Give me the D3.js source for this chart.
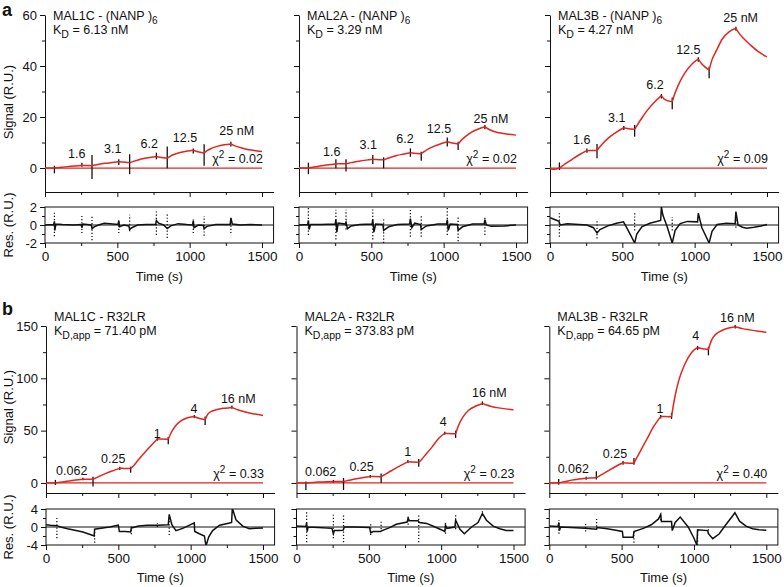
<!DOCTYPE html>
<html><head><meta charset="utf-8">
<script src="https://cdn.jsdelivr.net/npm/d3@7"></script>
<style>
body{margin:0;background:#fff}
svg{display:block}
text{font-family:"Liberation Sans",Arial,Helvetica,sans-serif}
</style>
</head><body>
<svg id="c" width="784" height="587"></svg>
<script>
// ---------------- DATA ----------------
const fitTimes = [0,30,65, 85,115,155,205,255, 280,325, 345,375,415,465,510, 535,585,
  605,635,675,725,770, 795,845, 865,895,935,985,1025, 1050,1100,
  1120,1150,1190,1240,1285, 1305,1335,1385,1445,1500];
const phaseBreaks = [65,255,325,510,585,770,845,1025,1100,1285];
const xMajorTicks = [0,500,1000,1500];
const xMinorTicks = [250,750,1250];

const fitA1 = [0,0,0, 0.1,0.3,0.55,0.8,1.0, 0.95,0.9, 1.15,1.5,1.85,2.2,2.5, 2.35,2.1,
  2.5,3.0,3.6,4.1,4.5, 4.2,3.8, 4.6,5.4,6.1,6.7,7.0, 6.5,5.9, 6.8,7.7,8.5,9.1,9.4, 8.9,8.3,7.5,6.9,6.5];
const fitA2 = [0,0,0, 0.2,0.5,0.9,1.3,1.6, 1.65,1.7, 1.9,2.3,2.7,3.1,3.4, 3.3,3.2,
  3.6,4.2,4.9,5.5,6.0, 5.8,5.6, 6.4,7.5,8.6,9.6,10.3, 9.9,9.4, 10.8,12.3,14.0,15.3,16.2, 15.4,14.6,13.8,13.2,12.9];
const fitA3 = [-0.3,-0.5,0, 0.8,2.0,3.5,5.3,6.8, 6.9,6.9, 8.3,10.2,12.3,14.3,15.8, 15.5,15.2,
  17.0,19.6,22.8,26.0,28.4, 26.8,26.0, 29.5,33.5,37.5,41.0,42.7, 40.8,38.4, 42.5,46.0,50.5,53.5,54.8, 53.0,51.0,48.3,45.4,43.6];
const fitB1 = [0,0,0, 0.4,1.0,1.8,2.8,3.6, 3.6,3.5, 4.8,6.8,9.2,11.8,14.0, 13.9,13.7,
  16.5,21.5,28.0,35.5,42.0, 42.0,41.8, 48.0,54.5,59.5,62.5,63.5, 62.0,60.5, 66.0,68.8,70.5,71.5,72.2, 71.0,69.5,67.5,65.8,64.5];
const fitB2 = [0,0,0, 0.15,0.4,0.8,1.1,1.4, 1.4,1.4, 2.0,2.9,4.0,5.2,6.2, 6.1,6.0,
  7.6,10.0,13.3,17.0,20.2, 20.0,19.8, 22.5,27.5,34.0,43.0,47.5, 47.3,47.0, 55.0,63.0,69.5,73.5,76.0, 75.0,73.5,72.0,70.8,70.0];
const fitB3 = [0,0,0, 0.6,1.5,2.7,3.7,4.5, 4.8,5.0, 6.6,9.0,12.3,16.2,19.3, 19.1,18.8,
  24.2,31.8,42.0,54.7,63.4, 63.4,63.2, 80.0,98.0,113.0,125.0,129.5, 128.5,127.5, 136.0,142.0,145.5,148.0,149.2, 148.5,147.5,146.3,145.0,144.0];

// injection marker bars in the sensorgram: [time, low, high]
const barsA1 = [[65,-2.1,0.9],[255,0.5,2.1],[325,-4.3,5.1],[510,1.2,3.4],[585,-2.4,5.4],[770,3.4,6.0],[845,-0.1,8.4],[1025,5.7,7.7],[1100,0.9,9.3],[1285,8.4,10.3]];
const barsA2 = [[65,-2.4,2.1],[255,-0.1,3.4],[325,-1.4,3.4],[510,1.6,5.1],[585,-0.1,4.2],[770,4.4,7.7],[845,2.9,6.4],[1025,8.4,12.0],[1100,7.1,10.3],[1285,15.2,16.9]];
const barsA3 = [[65,-0.8,2.2],[255,6.0,7.7],[325,3.8,9.4],[510,14.9,16.5],[585,12.3,16.9],[770,27.3,29.0],[845,23.0,27.7],[1025,41.7,43.4],[1100,35.2,39.7],[1285,53.8,55.4]];
const barsB1 = [[65,-1.9,2.9],[255,2.5,5.0],[325,-3.5,6.0],[510,12.5,15.5],[585,9.8,15.6],[770,40.5,43.5],[845,37.0,44.0],[1025,62.0,65.0],[1100,55.4,63.4],[1285,71.0,74.0]];
const barsB2 = [[65,-6.7,1.3],[255,0.3,2.8],[325,-6.7,4.8],[510,5.0,7.5],[585,0,9.0],[770,19.0,22.0],[845,15.6,23.0],[1025,46.0,49.0],[1100,43.0,50.0],[1285,74.5,78.0]];
const barsB3 = [[65,-1.6,3.8],[255,3.0,6.0],[325,3.2,11.1],[510,17.5,21.0],[585,17.5,23.9],[770,61.5,65.0],[845,61.2,66.9],[1025,127.0,131.0],[1100,122.0,130.0],[1285,147.5,151.0]];

// residuals: [time, residual]
const resA1 = [[0,0],[60,0.05],[65,0.4],[68,-0.6],[75,0.1],[120,0.05],[200,0],[250,0.05],[255,-0.3],[262,0.1],[320,0],[325,-0.4],[340,-0.2],[370,0],[410,0.2],[450,0.15],[505,0.05],[510,0.5],[515,-0.2],[545,0],[580,-0.1],[585,-0.5],[600,-0.3],[640,0],[700,0.05],[765,0.05],[770,0.5],[785,0.2],[820,0],[845,-0.4],[870,-0.1],[920,0.15],[980,0.05],[1020,0],[1025,0.5],[1030,-0.3],[1060,0],[1095,-0.05],[1100,-0.4],[1120,-0.15],[1180,0.05],[1280,0.05],[1285,0.8],[1295,0.1],[1350,0],[1420,0.05],[1500,0]];
const resA2 = [[0,0],[60,0.05],[65,0.5],[70,-0.5],[80,0.05],[150,0.05],[250,0.1],[255,0.6],[262,-0.8],[270,0.2],[320,0.1],[325,0.3],[335,-0.4],[360,-0.1],[420,0.05],[505,0.1],[510,0.6],[518,-0.8],[530,0.1],[580,0.05],[585,-0.6],[620,-0.2],[680,0.05],[765,0.1],[770,0.7],[780,-0.3],[800,0.2],[840,0.05],[845,-0.5],[880,-0.1],[960,0.1],[1020,0.1],[1025,0.6],[1032,-0.6],[1045,0.1],[1095,0.05],[1100,-0.6],[1130,-0.2],[1200,0.1],[1280,0.1],[1285,0.6],[1295,0],[1330,-0.15],[1420,-0.1],[1500,0]];
const resA3 = [[0,0.8],[40,0.55],[62,0.4],[70,0],[120,0.15],[200,0.05],[255,0],[300,-0.3],[325,-0.9],[345,-0.5],[400,-0.1],[460,0.2],[508,0.35],[530,-0.3],[560,-1.2],[585,-2.0],[600,-1.0],[635,-0.2],[690,0.2],[765,0.5],[770,2.0],[780,1.1],[810,-0.2],[845,-2.0],[865,-0.6],[900,0.15],[950,0.4],[1020,0.35],[1025,1.3],[1050,-0.3],[1100,-2.0],[1120,-0.7],[1155,0.05],[1220,0.2],[1280,0.15],[1285,1.5],[1300,0],[1330,-0.25],[1360,-0.35],[1410,-0.25],[1460,-0.1],[1500,0.05]];
const resB1 = [[0,0.5],[30,0.4],[75,0.3],[100,0],[150,-0.4],[200,-0.7],[255,-1.1],[300,-1.6],[333,-2.0],[336,-0.5],[380,-0.3],[440,0],[500,0.4],[507,-1.0],[550,-1.0],[585,-1.1],[590,-0.2],[640,0.2],[700,0.4],[770,0.4],[845,0.5],[852,2.8],[870,0.5],[898,-0.8],[945,-0.3],[1010,0.7],[1025,0.9],[1028,-1.0],[1060,-1.5],[1095,-2.0],[1106,-4.2],[1125,-2.2],[1152,-0.8],[1200,0.4],[1270,0.9],[1283,1.0],[1288,4.2],[1313,1.6],[1360,0.2],[1405,-0.4],[1450,-0.3],[1500,-0.2]];
const resB2 = [[0,0.2],[65,0.1],[70,1.0],[74,-1.0],[80,0],[150,-0.1],[245,-0.3],[255,-1.5],[262,-0.8],[300,-0.8],[323,-0.7],[330,0],[400,0],[505,-0.1],[513,-1.3],[530,-1.0],[580,-1.0],[600,-0.7],[640,-0.2],[690,0.6],[765,1.1],[772,2.0],[780,1.4],[840,1.4],[850,1.0],[900,0.8],[950,0.1],[1000,-0.6],[1025,-1.0],[1030,0.4],[1040,-0.3],[1095,0],[1100,1.5],[1130,-0.5],[1160,-1.5],[1210,0],[1255,1.0],[1285,3.0],[1313,1.5],[1360,0.2],[1405,-0.4],[1450,-0.75],[1500,-0.75]];
const resB3 = [[0,0.2],[60,0.1],[66,1.0],[70,-0.8],[78,0],[150,-0.1],[247,-0.3],[325,-0.5],[330,-0.1],[400,-0.4],[460,-0.7],[505,-1.0],[510,-2.3],[580,-2.3],[585,-1.0],[650,-0.3],[705,0.5],[755,1.8],[770,2.8],[775,1.2],[845,1.2],[850,-0.8],[870,1.0],[905,2.2],[960,0],[1000,-2.5],[1020,-4.0],[1025,-0.6],[1095,-0.8],[1100,-1.5],[1130,-2.6],[1175,-1.5],[1220,0.5],[1268,2.5],[1283,3.2],[1315,1.3],[1360,0.2],[1405,-0.4],[1450,-0.6],[1500,-0.7]];

// dotted injection spikes in the residuals: [time, low, high]
const spkA1 = [[65,-1.25,1.5],[255,-0.9,1.0],[325,-1.7,1.15],[510,-0.9,0.4],[585,-0.7,1.15],[770,-1.1,1.5],[845,-1.45,1.4],[1025,-0.9,0.6],[1100,-1.2,1.0],[1285,-0.9,0.8]];
const spkA2 = [[65,-1.1,1.9],[255,-1.6,1.7],[325,-0.5,1.7],[510,-1.6,1.9],[585,-2.0,0.6],[770,-1.3,1.7],[845,-1.3,1.0],[1025,-1.1,1.9],[1100,-1.8,1.0],[1285,-1.1,0.8]];
const spkA3 = [[65,-1.3,1.3],[325,-1.5,0.6],[585,-0.6,1.3],[845,-0.6,0.9],[1285,-0.3,1.2]];
const spkB1 = [[75,-2.5,2.0],[336,-3.5,-0.5],[590,-1.6,0.5],[770,0,0.9],[852,-1.8,2.5]];
const spkB2 = [[70,-3.4,3.6],[255,-2.5,3.0],[325,-3.4,3.0],[513,-1.8,0.9],[585,-0.5,1.5],[772,0.5,2.5],[845,-3.4,3.0],[1030,-1.5,1.0],[1100,-0.5,3.0],[1285,2.5,3.5]];
const spkB3 = [[67,-1.5,1.5],[251,-1.0,0.8],[327,-0.6,2.0],[585,-3.5,-0.8],[770,1.5,3.0],[1025,-4,-0.5],[1100,-1.5,0]];

// concentration labels and anchors [time, signal]
const concA = ["1.6","3.1","6.2","12.5","25 nM"];
const concB = ["0.062","0.25","1","4","16 nM"];
const labA1 = [[219,4.0],[468,5.8],[721,7.7],[968,10.3],[1325,12.9]];
const labA2 = [[226,4.8],[479,7.5],[733,9.7],[968,13.6],[1327,17.8]];
const labA3 = [[219,9.4],[461,18.2],[726,30.9],[956,44.7],[1318,57.4]];
const labB1 = [[178,7.6],[465,19.4],[769,42.7],[1023,67.2],[1329,76.1]];
const labB2 = [[167,6.7],[450,11.5],[768,26.1],[1015,54.5],[1333,81.9]];
const labB3 = [[166,9.3],[454,23.6],[765,67.2],[1012,136.6],[1300,154.1]];

const ligands = ["MAL1C","MAL2A","MAL3B"];
const kdA = ["6.13 nM","3.29 nM","4.27 nM"];
const kdB = ["71.40 pM","373.83 pM","64.65 pM"];
const chiA = ["0.02","0.02","0.09"];
const chiB = ["0.33","0.23","0.40"];

// ---------------- LAYOUT ----------------
const RED = "#e1251f", INK = "#111";
const svg = d3.select("#c");
const rows = [
  {x0:[45,299,550], sigDom:[-9.4,60], sigRange:[192,15], sigMajor:[0,20,40,60], sigMinor:[10,30,50],
   resDom:[-2,2], resRange:[243,207], resMajor:[-2,0,2], resMinor:[-1,1], timeY:281, titleY:[20,34],
   sigLabelY:102, resLabelY:225, letter:"a", letterY:16, analyte:"(NANP )", sub:"6", kdSub:"D",
   fits:[fitA1,fitA2,fitA3], bars:[barsA1,barsA2,barsA3], res:[resA1,resA2,resA3], spk:[spkA1,spkA2,spkA3],
   labs:[labA1,labA2,labA3], conc:concA, kd:kdA, chi:chiA},
  {x0:[46,296.5,549.3], sigDom:[-9.6,150], sigRange:[493,326], sigMajor:[0,50,100,150], sigMinor:[25,75,125],
   resDom:[-4,4], resRange:[545,509], resMajor:[-4,0,4], resMinor:[-2,2], timeY:582, titleY:[321,335],
   sigLabelY:407, resLabelY:527, letter:"b", letterY:315, analyte:"R32LR", sub:"", kdSub:"D,app",
   fits:[fitB1,fitB2,fitB3], bars:[barsB1,barsB2,barsB3], res:[resB1,resB2,resB3], spk:[spkB1,spkB2,spkB3],
   labs:[labB1,labB2,labB3], conc:concB, kd:kdB, chi:chiB}
];
const XMAX = 1580, PXW = 1580*217/1500;

function styleAxis(sel, fs){
  sel.select(".domain").attr("stroke",INK).attr("stroke-width",1);
  sel.selectAll(".tick line").attr("stroke",INK).attr("stroke-width",1);
  sel.selectAll(".tick text").attr("fill",INK).attr("font-size",fs)
     .attr("font-family",'"Liberation Sans",Arial,sans-serif');
}

let clipId = 0;
rows.forEach((row, ri) => {
  svg.append("text").attr("x",2).attr("y",row.letterY).attr("font-size",18).attr("font-weight","bold")
     .attr("fill",INK).text(row.letter);
  svg.append("text").attr("transform",`translate(13,${row.sigLabelY}) rotate(-90)`).attr("text-anchor","middle")
     .attr("font-size",13).attr("fill",INK).text("Signal (R.U.)");
  svg.append("text").attr("transform",`translate(13,${row.resLabelY}) rotate(-90)`).attr("text-anchor","middle")
     .attr("font-size",13).attr("fill",INK).text("Res. (R.U.)");

  for (let col=0; col<3; col++){
    const x0 = row.x0[col];
    const x = d3.scaleLinear().domain([0,XMAX]).range([x0, x0+PXW]);
    const y = d3.scaleLinear().domain(row.sigDom).range(row.sigRange);
    const yr = d3.scaleLinear().domain(row.resDom).range(row.resRange);
    const g = svg.append("g");

    const ya = g.append("g").attr("transform",`translate(${x0},0)`)
      .call(d3.axisLeft(y).tickValues(row.sigMajor).tickSize(5).tickSizeOuter(0).tickPadding(3)
        .tickFormat(col===0 ? (d=>String(d)) : (()=>"")));
    styleAxis(ya, 13);
    const yam = g.append("g").attr("transform",`translate(${x0},0)`)
      .call(d3.axisLeft(y).tickValues(row.sigMinor).tickSize(3).tickFormat(""));
    yam.select(".domain").remove(); styleAxis(yam, 13);
    const xa = g.append("g").attr("transform",`translate(0,${row.sigRange[0]})`)
      .call(d3.axisBottom(x).tickValues(xMajorTicks).tickSize(5).tickSizeOuter(0).tickFormat(""));
    styleAxis(xa, 13);
    const xam = g.append("g").attr("transform",`translate(0,${row.sigRange[0]})`)
      .call(d3.axisBottom(x).tickValues(xMinorTicks).tickSize(3).tickFormat(""));
    xam.select(".domain").remove(); styleAxis(xam, 13);

    g.append("line").attr("x1",x(0)).attr("x2",x(1500)).attr("y1",y(0)).attr("y2",y(0))
      .attr("stroke",RED).attr("stroke-width",1.3);

    g.selectAll(null).data(row.bars[col]).join("line")
      .attr("x1",d=>x(d[0])).attr("x2",d=>x(d[0])).attr("y1",d=>y(d[1])).attr("y2",d=>y(d[2]))
      .attr("stroke",INK).attr("stroke-width",1.3);

    const pts = fitTimes.map((t,i)=>[t,row.fits[col][i]]);
    const edges = [0, ...phaseBreaks, 1500];
    const line = d3.line().x(d=>x(d[0])).y(d=>y(d[1])).curve(d3.curveMonotoneX);
    for (let k=0;k<edges.length-1;k++){
      const seg = pts.filter(d=>d[0]>=edges[k] && d[0]<=edges[k+1]);
      g.append("path").attr("d",line(seg)).attr("fill","none").attr("stroke",RED).attr("stroke-width",1.5);
    }

    g.selectAll(null).data(row.labs[col]).join("text")
      .attr("x",d=>x(d[0])).attr("y",d=>y(d[1])).attr("text-anchor","middle")
      .attr("font-size",12.5).attr("fill",INK).text((d,i)=>row.conc[i]);

    const ct = g.append("text").attr("x",x(1500)+1).attr("y",y(0)-5).attr("text-anchor","end")
      .attr("font-size",12.5).attr("fill",INK);
    ct.append("tspan").text("χ");
    ct.append("tspan").attr("dy",-5).attr("font-size",10).text("2");
    ct.append("tspan").attr("dy",5).text(" = " + row.chi[col]);

    const t1 = g.append("text").attr("x",x0+8).attr("y",row.titleY[0]).attr("font-size",12.5).attr("fill",INK);
    t1.append("tspan").text(ligands[col] + " - " + row.analyte);
    if (row.sub) t1.append("tspan").attr("dy",4).attr("font-size",10).text(row.sub);
    const t2 = g.append("text").attr("x",x0+8).attr("y",row.titleY[1]).attr("font-size",12.5).attr("fill",INK);
    t2.append("tspan").text("K");
    t2.append("tspan").attr("dy",4).attr("font-size",10.5).text(row.kdSub);
    t2.append("tspan").attr("dy",-4).text(" = " + row.kd[col]);

    const top = row.resRange[1], bot = row.resRange[0];
    const cid = "clip"+(clipId++);
    svg.append("clipPath").attr("id",cid).append("rect").attr("x",x0).attr("y",top).attr("width",PXW).attr("height",bot-top);
    const rg = g.append("g").attr("clip-path",`url(#${cid})`);
    rg.append("line").attr("x1",x0).attr("x2",x0+PXW).attr("y1",yr(0)).attr("y2",yr(0))
      .attr("stroke",INK).attr("stroke-width",1);
    rg.selectAll(null).data(row.spk[col]).join("line")
      .attr("x1",d=>x(d[0])).attr("x2",d=>x(d[0])).attr("y1",d=>yr(d[1])).attr("y2",d=>yr(d[2]))
      .attr("stroke",INK).attr("stroke-width",1.3).attr("stroke-dasharray","1.2,2");
    rg.append("path").attr("d", d3.line().x(d=>x(d[0])).y(d=>yr(d[1]))(row.res[col]))
      .attr("fill","none").attr("stroke",INK).attr("stroke-width",1.5);
    g.append("rect").attr("x",x0).attr("y",top).attr("width",PXW).attr("height",bot-top)
      .attr("fill","none").attr("stroke",INK).attr("stroke-width",1);

    const ra = g.append("g").attr("transform",`translate(${x0},0)`)
      .call(d3.axisLeft(yr).tickValues(row.resMajor).tickSize(5).tickPadding(3)
        .tickFormat(col===0 ? (d=>String(d)) : (()=>"")));
    ra.select(".domain").remove(); styleAxis(ra, 13);
    const ram = g.append("g").attr("transform",`translate(${x0},0)`)
      .call(d3.axisLeft(yr).tickValues(row.resMinor).tickSize(3).tickFormat(""));
    ram.select(".domain").remove(); styleAxis(ram, 13);
    const rx = g.append("g").attr("transform",`translate(0,${bot})`)
      .call(d3.axisBottom(x).tickValues(xMajorTicks).tickSize(5).tickPadding(3).tickFormat(d=>String(d)));
    rx.select(".domain").remove(); styleAxis(rx, 13.5);
    const rxm = g.append("g").attr("transform",`translate(0,${bot})`)
      .call(d3.axisBottom(x).tickValues(xMinorTicks).tickSize(3).tickFormat(""));
    rxm.select(".domain").remove(); styleAxis(rxm, 13);

    g.append("text").attr("x",x0+PXW/2).attr("y",row.timeY).attr("text-anchor","middle")
      .attr("font-size",13).attr("fill",INK).text("Time (s)");
  }
});
</script>
</body></html>
